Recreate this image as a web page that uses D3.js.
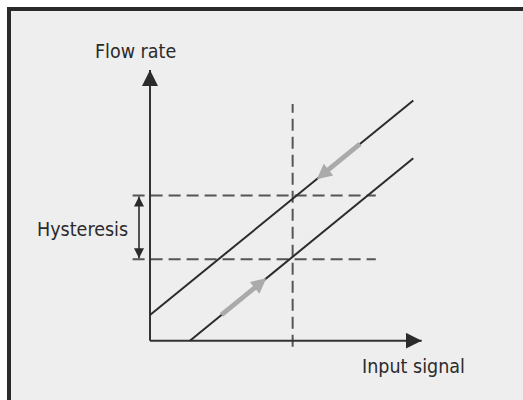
<!DOCTYPE html>
<meta charset="utf-8">
<style type="text/css">
body {
  margin: 0;
  background: #fff;
}

.label {
  font-family: "DejaVu Sans Condensed", "DejaVu Sans", sans-serif;
  font-size: 19.5px;
  fill: #2b2b2b;
}

.curve {
  fill: none;
  stroke: #2b2b2b;
  stroke-width: 2px;
}

.guide {
  fill: none;
  stroke: #555;
  stroke-width: 2px;
  stroke-dasharray: 12 6;
}

.axis-line {
  stroke: #333;
  stroke-width: 2px;
}
</style>
<body>
</body>

<script src="https://cdn.jsdelivr.net/npm/d3@7"></script>
<script>
// values, in chart units (axis origin = 0,0)
var xDomain = [0, 10];
var yDomain = [0, 10];

var upperLine = [[0, 0.95], [9.69, 8.87]];   // decreasing signal
var lowerLine = [[1.47, 0], [9.69, 6.74]];   // increasing signal

var setpoint = 5.25;
var setpointSpan = [-0.22, 8.74];
var hystLevels = [5.36, 3.01];
var hystSpan = [-0.64, 8.31];

// gray direction arrows [from x, to x] along each line
var upperArrow = [7.73, 6.14];
var lowerArrow = [2.63, 4.28];

var width = 523, height = 400;

var svg = d3.select("body")
  .append("svg")
    .attr("width", width)
    .attr("height", height);

// frame (cropped at right and bottom)
svg.append("rect")
  .attr("x", 9)
  .attr("y", 9)
  .attr("width", width + 20)
  .attr("height", height + 20)
  .attr("fill", "#eeeeee")
  .attr("stroke", "#2a2a2a")
  .attr("stroke-width", 4);

var xscale = d3.scaleLinear()
  .domain(xDomain)
  .range([150, 421.7]);

var yscale = d3.scaleLinear()
  .domain(yDomain)
  .range([340.7, 70]);

var line = d3.line()
  .x(function(d) { return xscale(d[0]); })
  .y(function(d) { return yscale(d[1]); });

function yOn(seg, x) {
  var t = (x - seg[0][0]) / (seg[1][0] - seg[0][0]);
  return seg[0][1] + t * (seg[1][1] - seg[0][1]);
}

var defs = svg.append("defs");

function marker(id, color, w, h, refX) {
  defs.append("marker")
    .attr("id", id)
    .attr("viewBox", "0 0 10 10")
    .attr("refX", refX)
    .attr("refY", 5)
    .attr("markerUnits", "userSpaceOnUse")
    .attr("markerWidth", w)
    .attr("markerHeight", h)
    .attr("orient", "auto-start-reverse")
    .append("path")
      .attr("d", "M0,0L10,5L0,10Z")
      .attr("fill", color);
}
marker("axisHead", "#2b2b2b", 16, 16, 10);
marker("hystHead", "#2b2b2b", 14, 10, 10);

// guides
svg.selectAll(".hguide")
  .data(hystLevels)
  .enter().append("path")
    .attr("class", "guide")
    .attr("d", function(d) { return line([[hystSpan[0], d], [hystSpan[1], d]]); });

svg.append("path")
  .attr("class", "guide")
  .attr("d", line([[setpoint, setpointSpan[0]], [setpoint, setpointSpan[1]]]));

// axes
svg.append("line")
  .attr("class", "axis-line")
  .attr("x1", xscale(0)).attr("y1", yscale(0))
  .attr("x2", xscale(0)).attr("y2", yscale(yDomain[1]))
  .attr("marker-end", "url(#axisHead)");

svg.append("line")
  .attr("class", "axis-line")
  .attr("x1", xscale(0)).attr("y1", yscale(0))
  .attr("x2", xscale(xDomain[1])).attr("y2", yscale(0))
  .attr("marker-end", "url(#axisHead)");

// characteristic lines
svg.selectAll(".curve")
  .data([upperLine, lowerLine])
  .enter().append("path")
    .attr("class", "curve")
    .attr("d", line);

// gray direction arrows: shaft plus a filled head drawn as one polygon
var headLen = 15, headHalf = 7.5, shaftHalf = 2.4;
[[upperLine, upperArrow], [lowerLine, lowerArrow]].forEach(function(p) {
  var seg = p[0], a = p[1];
  var x0 = xscale(a[0]), y0 = yscale(yOn(seg, a[0]));
  var x1 = xscale(a[1]), y1 = yscale(yOn(seg, a[1]));
  var len = Math.hypot(x1 - x0, y1 - y0);
  var ux = (x1 - x0) / len, uy = (y1 - y0) / len;
  var nx = -uy, ny = ux;
  var bx = x1 - ux * headLen, by = y1 - uy * headLen;
  var pts = [
    [x0 + nx * shaftHalf, y0 + ny * shaftHalf],
    [bx + nx * shaftHalf, by + ny * shaftHalf],
    [bx + nx * headHalf, by + ny * headHalf],
    [x1, y1],
    [bx - nx * headHalf, by - ny * headHalf],
    [bx - nx * shaftHalf, by - ny * shaftHalf],
    [x0 - nx * shaftHalf, y0 - ny * shaftHalf]
  ];
  svg.append("path")
    .attr("d", "M" + pts.join("L") + "Z")
    .attr("fill", "#aaaaaa");
});

// hysteresis double arrow
svg.append("line")
  .attr("x1", 139).attr("x2", 139)
  .attr("y1", yscale(hystLevels[0]) + 1)
  .attr("y2", yscale(hystLevels[1]) - 1)
  .attr("stroke", "#2b2b2b")
  .attr("stroke-width", 1.6)
  .attr("marker-start", "url(#hystHead)")
  .attr("marker-end", "url(#hystHead)");

// labels
svg.append("text")
  .attr("class", "label")
  .attr("x", 95)
  .attr("y", 58)
  .text("Flow rate");

svg.append("text")
  .attr("class", "label")
  .attr("x", 37)
  .attr("y", 236)
  .text("Hysteresis");

svg.append("text")
  .attr("class", "label")
  .attr("x", 362)
  .attr("y", 373)
  .text("Input signal");
</script>
